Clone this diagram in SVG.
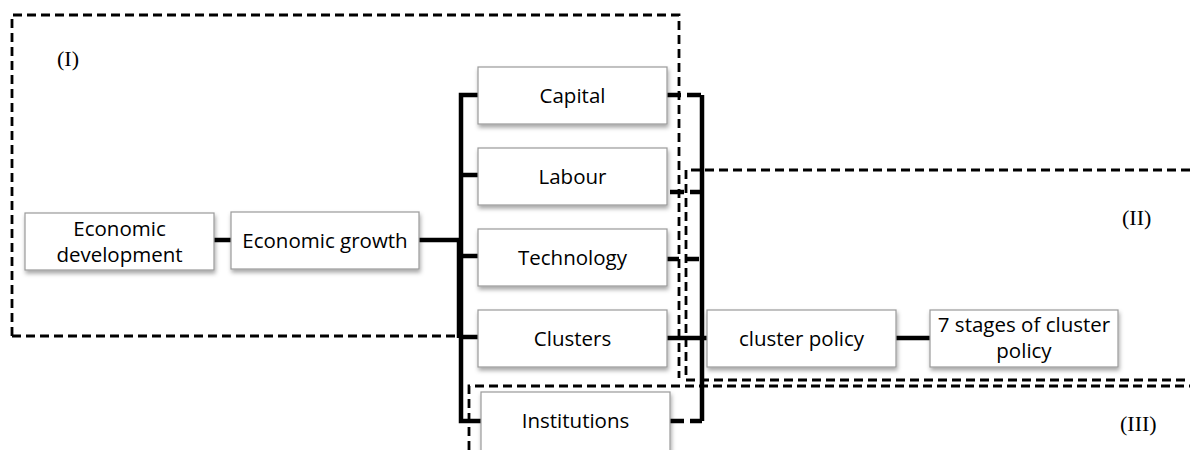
<svg xmlns="http://www.w3.org/2000/svg" width="1190" height="450" viewBox="0 0 1190 450">
<defs>
<filter id="sh" x="-10%" y="-20%" width="130%" height="160%">
<feDropShadow dx="1" dy="3" stdDeviation="2" flood-color="#000" flood-opacity="0.35"/>
</filter>
<style>
.box{fill:#fff;stroke:#9a9a9a;stroke-width:1.2;filter:url(#sh)}
.t{font-family:"Open Sans","Liberation Sans",sans-serif;font-size:20.5px;fill:#000;text-anchor:middle}
.reg{fill:none;stroke:#000;stroke-width:2.8;stroke-dasharray:9,5}
.lbl{font-family:"Liberation Serif",serif;font-size:22px;fill:#000}
.c{fill:none;stroke:#000;stroke-width:4.5}
.cd{fill:none;stroke:#000;stroke-width:4.5;stroke-dasharray:14,6}
</style>
</defs>
<rect width="1190" height="450" fill="#fff"/>
<g id="regions">
<path class="reg" d="M12,336 V15 H679 V378"/>
<path class="reg" d="M12,336 H455"/>
<path class="reg" d="M1190,170 H686 V380 H1190"/>
<path class="reg" d="M469,450 V386 H1190"/>
<text class="lbl" x="57" y="66">(I)</text>
<text class="lbl" x="1122" y="225">(II)</text>
<text class="lbl" x="1120" y="431">(III)</text>
</g>
<g id="connectors">
<path class="c" d="M214,240 H231"/>
<path class="c" d="M419,240 H461"/>
<path class="c" d="M478,95 H461 V421 H481"/>
<path class="c" d="M461,175 H478"/>
<path class="c" d="M461,256 H478"/>
<path class="c" d="M461,337 H478"/>
<path class="c" d="M459,239 V338"/>
<path class="cd" d="M667,95 H702"/>
<path class="c" d="M702,95 V421"/>
<path class="cd" d="M670,192 H702"/>
<path class="cd" d="M665,259 H702"/>
<path class="c" d="M667,338 H707"/>
<path class="cd" d="M670,421 H702"/>
<path class="c" d="M896,338 H930"/>
</g>
<g id="n-econdev"><rect class="box" x="25" y="213" width="189" height="57"/><text class="t" x="119.5" y="236">Economic</text><text class="t" x="119.5" y="262">development</text></g>
<g id="n-econgrowth"><rect class="box" x="231" y="212" width="188" height="57"/><text class="t" x="325" y="248">Economic growth</text></g>
<g id="n-capital"><rect class="box" x="478" y="67" width="189" height="57"/><text class="t" x="572.5" y="103">Capital</text></g>
<g id="n-labour"><rect class="box" x="478" y="148" width="189" height="57"/><text class="t" x="572.5" y="184">Labour</text></g>
<g id="n-technology"><rect class="box" x="478" y="229" width="189" height="57"/><text class="t" x="572.5" y="265">Technology</text></g>
<g id="n-clusters"><rect class="box" x="478" y="310" width="189" height="57"/><text class="t" x="572.5" y="346">Clusters</text></g>
<g id="n-institutions"><rect class="box" x="481" y="392" width="189" height="62"/><text class="t" x="575.5" y="428">Institutions</text></g>
<g id="n-clusterpolicy"><rect class="box" x="707" y="310" width="189" height="57"/><text class="t" x="801.5" y="346">cluster policy</text></g>
<g id="n-7stages"><rect class="box" x="930" y="310" width="188" height="57"/><text class="t" x="1024" y="332">7 stages of cluster</text><text class="t" x="1024" y="358">policy</text></g>
</svg>
